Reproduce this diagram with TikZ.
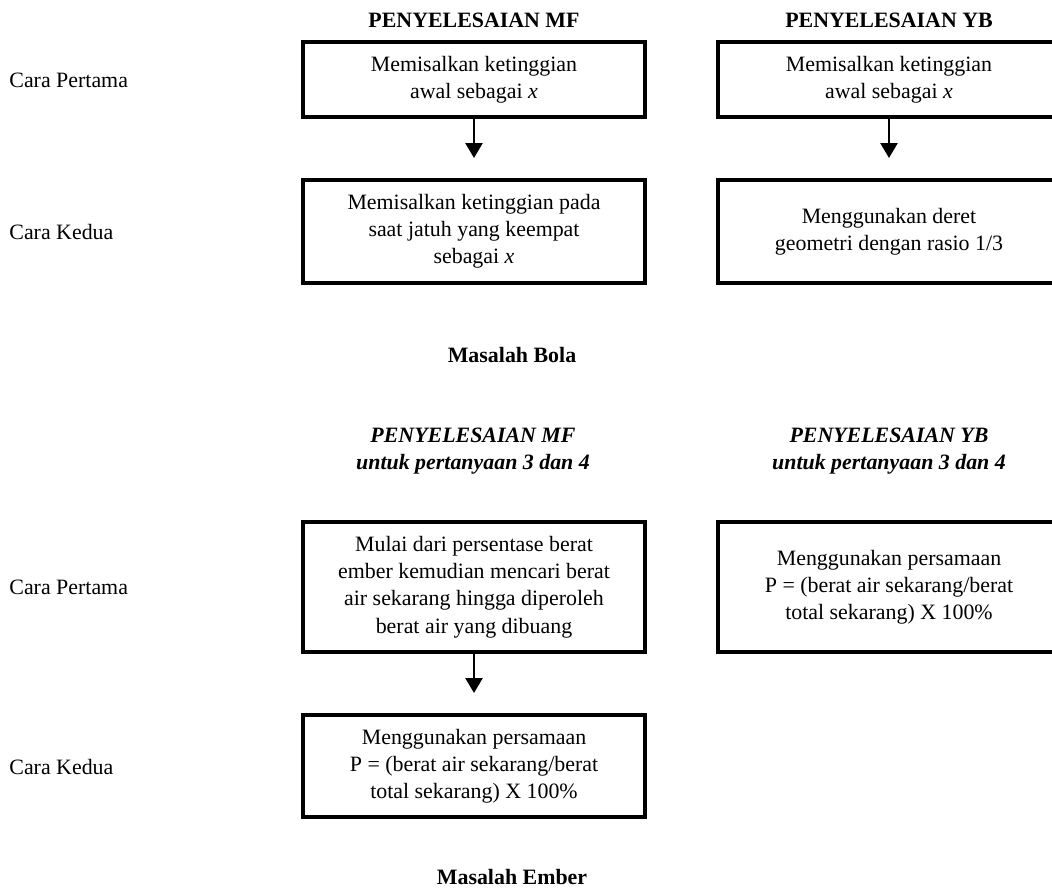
\documentclass[tikz,border=0pt,11pt]{standalone}
\usepackage{fontspec}
\setmainfont{Liberation Serif}
\usetikzlibrary{positioning, arrows.meta}
\tikzset{
  >={Triangle[width=8.5pt, length=7.5pt]},
  box/.style={draw, line width=1.6pt, minimum width=171pt, align=center, outer sep=0pt},
  head/.style={font=\bfseries},
  ihead/.style={font=\bfseries\itshape, align=center},
  side/.style={anchor=west, inner xsep=0pt},
  flow/.style={->, line width=1.3pt, shorten >=11pt},
}

\begin{document}
\begin{tikzpicture}[x=0.5pt, y=-0.5pt]
    \useasboundingbox (0,0) rectangle (1052,888);
    \clip (0,0) rectangle (1052,888);

    % Masalah Bola
    \node[head] (hmf) at (474,20) {PENYELESAIAN MF};
    \node[head] (hyb) at (889,20) {PENYELESAIAN YB};
    \node[box, minimum height=37.5pt] (mf1) at (474,79.5) {Memisalkan ketinggian\\awal sebagai \textit{x}};
    \node[box, minimum height=51.5pt, below=31.5pt of mf1] (mf2) {Memisalkan ketinggian pada\\saat jatuh yang keempat\\sebagai \textit{x}};
    \node[box, minimum height=37.5pt, right=36.5pt of mf1] (yb1) {Memisalkan ketinggian\\awal sebagai \textit{x}};
    \node[box, minimum height=51.5pt, below=31.5pt of yb1] (yb2) {Menggunakan deret\\geometri dengan rasio 1/3};
    \node[side] (cp1) at (9,80) {Cara Pertama};
    \node[side] (ck1) at (9,232) {Cara Kedua};
    \node[head] (bola) at (512,355) {Masalah Bola};

    \draw[flow] (mf1) -- (mf2);
    \draw[flow] (yb1) -- (yb2);

    % Masalah Ember
    \node[ihead] (imf) at (473,451) {PENYELESAIAN MF\\untuk pertanyaan 3 dan 4};
    \node[ihead] (iyb) at (889,451) {PENYELESAIAN YB\\untuk pertanyaan 3 dan 4};
    \node[box, minimum height=65pt] (mf3) at (474,587) {Mulai dari persentase berat\\ember kemudian mencari berat\\air sekarang hingga diperoleh\\berat air yang dibuang};
    \node[box, minimum height=51pt, below=31.5pt of mf3] (mf4) {Menggunakan persamaan\\P = (berat air sekarang/berat\\total sekarang) X 100\%};
    \node[box, minimum height=65pt, right=36.5pt of mf3] (yb3) {Menggunakan persamaan\\P = (berat air sekarang/berat\\total sekarang) X 100\%};
    \node[side] (cp2) at (9,587) {Cara Pertama};
    \node[side] (ck2) at (9,767) {Cara Kedua};
    \node[head] (ember) at (512,877) {Masalah Ember};

    \draw[flow] (mf3) -- (mf4);
\end{tikzpicture}
\end{document}
